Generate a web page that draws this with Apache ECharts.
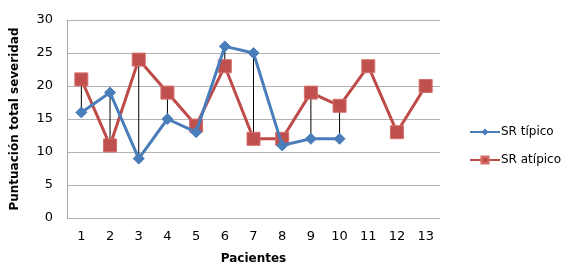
<!DOCTYPE html>
<html>
<head>
<meta charset="utf-8">
<script src="https://cdn.jsdelivr.net/npm/echarts@6/dist/echarts.min.js"></script>
<style>
  html, body { margin: 0; padding: 0; background: #fff; }
  #chart { width: 573px; height: 275px; }
</style>
</head>
<body>
<div id="chart"></div>
<script>
const pacientes = ['1', '2', '3', '4', '5', '6', '7', '8', '9', '10', '11', '12', '13']
const srTipico = [16, 19, 9, 15, 13, 26, 25, 11, 12, 12]
const srAtipico = [21, 11, 24, 19, 14, 23, 12, 12, 19, 17, 23, 13, 20]

// lineas verticales entre ambas series (donde existen las dos)
const dropLines = srTipico.map((v, i) => [i, Math.min(v, srAtipico[i]), Math.max(v, srAtipico[i])])

const chart = echarts.init(document.getElementById('chart'))
const font = 'DejaVu Sans'
chart.setOption({
  animation: false,
  backgroundColor: '#fff',
  grid: {
    left: 67,
    right: 133,
    top: 20,
    bottom: 57,
  },
  legend: {
    orient: 'vertical',
    left: 464,
    top: 121,
    itemGap: 16,
    itemWidth: 30,
    itemHeight: 9,
    textStyle: {
      fontFamily: font,
      fontSize: 12,
      color: '#000',
      padding: [0, 0, 0, -4],
    },
    data: ['SR típico', 'SR atípico'],
  },
  xAxis: {
    type: 'category',
    data: pacientes,
    name: 'Pacientes',
    nameLocation: 'middle',
    nameGap: 35,
    nameTextStyle: {
      fontFamily: font,
      fontSize: 12,
      fontWeight: 'bold',
      color: '#000',
    },
    axisLine: { show: false },
    axisTick: { show: false },
    axisLabel: {
      fontFamily: font,
      fontSize: 13,
      color: '#000',
      margin: 12,
    },
  },
  yAxis: {
    type: 'value',
    min: 0,
    max: 30,
    interval: 5,
    name: 'Puntuación total severidad',
    nameLocation: 'middle',
    nameGap: 46,
    nameTextStyle: {
      fontFamily: font,
      fontSize: 12,
      fontWeight: 'bold',
      color: '#000',
    },
    axisLine: {
      show: true,
      lineStyle: { color: '#a6a6a6', width: 1 },
    },
    axisTick: { show: false },
    axisLabel: {
      fontFamily: font,
      fontSize: 13,
      color: '#000',
      margin: 14,
    },
    splitLine: {
      lineStyle: { color: '#b3b3b3', width: 1 },
    },
  },
  series: [
    {
      name: 'lineas',
      type: 'custom',
      z: 1,
      silent: true,
      data: dropLines,
      renderItem(params, api) {
        const a = api.coord([api.value(0), api.value(1)])
        const b = api.coord([api.value(0), api.value(2)])
        return {
          type: 'line',
          shape: { x1: a[0], y1: a[1], x2: b[0], y2: b[1] },
          style: { stroke: '#000', lineWidth: 1 },
        }
      },
    },
    {
      name: 'SR típico',
      type: 'line',
      z: 3,
      data: srTipico,
      color: '#4a7ebb',
      symbol: 'diamond',
      symbolSize: 11,
      lineStyle: { width: 3, color: '#4a7ebb' },
      itemStyle: { color: '#4a7ebb', borderColor: '#4a7ebb' },
    },
    {
      name: 'SR atípico',
      type: 'line',
      z: 2,
      data: srAtipico,
      color: '#be4b48',
      symbol: 'rect',
      symbolSize: 13,
      lineStyle: { width: 3, color: '#be4b48' },
      itemStyle: { color: '#c0504d', borderColor: '#d46f6c', borderWidth: 1 },
    },
  ],
})
</script>
</body>
</html>
